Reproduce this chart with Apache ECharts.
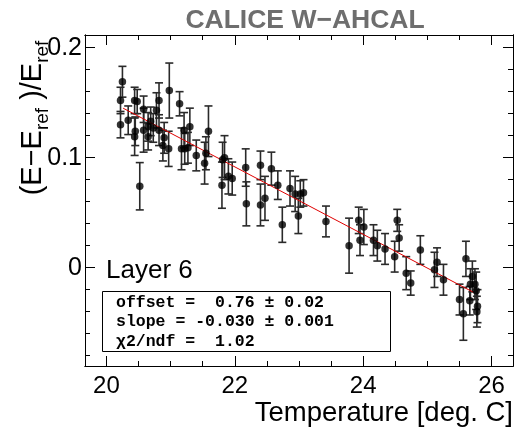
<!DOCTYPE html>
<html><head><meta charset="utf-8">
<script src="https://cdn.jsdelivr.net/npm/echarts@6/dist/echarts.min.js"></script>
<style>html,body{margin:0;padding:0;background:#fff}#c{width:516px;height:433px}</style>
</head><body><div id="c"></div>
<script>
const temps = [20.22,20.25,20.22,20.34,20.44,20.48,20.44,20.45,20.52,20.58,20.58,20.65,20.65,20.69,20.73,20.78,20.82,20.82,20.88,20.90,20.97,20.98,21.14,21.17,21.21,21.22,21.27,21.30,21.40,21.53,21.55,21.59,21.80,21.81,21.84,21.90,21.96,22.17,22.18,22.40,22.40,22.47,22.57,22.67,22.74,22.86,22.94,22.99,23.02,23.07,23.42,23.78,23.93,23.95,24.01,24.16,24.22,24.34,24.49,24.53,24.56,24.67,24.74,24.89,25.11,25.15,25.25,25.50,25.56,25.60,25.66,25.67,25.70,25.74,25.76,25.77,25.78];
const values = [0.152,0.169,0.130,0.134,0.152,0.151,0.119,0.124,0.074,0.144,0.125,0.128,0.119,0.133,0.127,0.143,0.152,0.125,0.111,0.118,0.108,0.161,0.149,0.108,0.125,0.108,0.109,0.128,0.102,0.095,0.104,0.124,0.075,0.098,0.100,0.083,0.081,0.091,0.058,0.093,0.057,0.063,0.090,0.075,0.039,0.072,0.067,0.047,0.067,0.068,0.042,0.020,0.043,0.025,0.037,0.025,0.020,0.017,0.010,0.043,0.027,-0.005,-0.014,0.016,-0.002,0.005,-0.011,-0.029,-0.042,0.008,-0.030,-0.015,-0.008,-0.015,-0.021,-0.040,-0.035];
const errors = [0.012,0.014,0.012,0.013,0.012,0.011,0.017,0.013,0.0215,0.012,0.02,0.013,0.012,0.013,0.013,0.016,0.016,0.014,0.014,0.014,0.016,0.025,0.011,0.019,0.016,0.014,0.014,0.017,0.014,0.019,0.015,0.023,0.021,0.016,0.02,0.016,0.015,0.017,0.020,0.013,0.019,0.020,0.015,0.013,0.016,0.016,0.016,0.016,0.012,0.012,0.014,0.025,0.012,0.014,0.016,0.014,0.014,0.014,0.014,0.010,0.012,0.015,0.011,0.013,0.016,0.013,0.014,0.014,0.024,0.016,0.013,0.014,0.014,0.014,0.017,0.014,0.015];
const fitX = [20.26, 25.72];
const fitY = [0.145, -0.0225];
const xMajor = [20, 22, 24, 26];
const xMinor = [20,20.5,21,21.5,22,22.5,23,23.5,24,24.5,25,25.5,26];
const yMajor = [0, 0.1, 0.2];
const yMinor = [-0.08,-0.06,-0.04,-0.02,0,0.02,0.04,0.06,0.08,0.1,0.12,0.14,0.16,0.18,0.2];
const titleText = 'CALICE W\u2212AHCAL';
const xName = 'Temperature [deg. C]';
const layerText = 'Layer 6';
const fitLines = ['offset =  0.76 \u00b1 0.02', 'slope = -0.030 \u00b1 0.001', '\u03c72/ndf =  1.02'];

const X0 = 19.667, X1 = 26.333, Y0 = -0.0894, Y1 = 0.2115;
const FONT = '"Liberation Sans", Arial, Helvetica, sans-serif';
const MONO = '"Liberation Mono", "Courier New", monospace';
const chart = echarts.init(document.getElementById('c'), null, {renderer: 'canvas'});

function xAx(pos, vals, len, labels) {
  return {type: 'value', min: X0, max: X1, position: pos,
    axisLine: {show: true, onZero: false, lineStyle: {color: '#000', width: 1}},
    splitLine: {show: false},
    axisTick: {show: true, inside: true, length: len, customValues: vals, lineStyle: {color: '#000', width: 1}},
    axisLabel: labels ? {show: true, customValues: vals, margin: 8, fontSize: 24, color: '#000', fontFamily: FONT} : {show: false}};
}
function yAx(pos, vals, len, labels) {
  return {type: 'value', min: Y0, max: Y1, position: pos,
    axisLine: {show: true, onZero: false, lineStyle: {color: '#000', width: 1}},
    splitLine: {show: false},
    axisTick: {show: true, inside: true, length: len, customValues: vals, lineStyle: {color: '#000', width: 1}},
    axisLabel: labels ? {show: true, customValues: vals, margin: 3, fontSize: 25, color: '#000', fontFamily: FONT,
      formatter: v => (Math.abs(v) < 1e-9 ? '0' : String(+v.toFixed(2)))} : {show: false}};
}

const errData = temps.map((t, i) => [t, values[i], errors[i]]);
const ptData = temps.map((t, i) => [t, values[i]]);

chart.setOption({
  animation: false,
  backgroundColor: '#fff',
  grid: {left: 85, right: 3, top: 35, bottom: 67, containLabel: false, outerBoundsMode: 'none'},
  xAxis: [
    xAx('bottom', xMajor, 10, true),
    xAx('bottom', xMinor, 5, false),
    xAx('top', xMajor, 10, false),
    xAx('top', xMinor, 5, false)
  ],
  yAxis: [
    yAx('left', yMajor, 10, true),
    yAx('left', yMinor, 5, false),
    yAx('right', yMajor, 10, false),
    yAx('right', yMinor, 5, false)
  ],
  series: [
    {type: 'custom', xAxisIndex: 0, yAxisIndex: 0, data: errData, z: 2,
      renderItem: function (params, api) {
        const x = api.value(0), y = api.value(1), e = api.value(2);
        const p1 = api.coord([x, y + e]), p2 = api.coord([x, y - e]);
        const w = 4, st = {stroke: '#2a2a2a', lineWidth: 1.6};
        return {type: 'group', children: [
          {type: 'line', shape: {x1: p1[0], y1: p1[1], x2: p2[0], y2: p2[1]}, style: st},
          {type: 'line', shape: {x1: p1[0] - w, y1: p1[1], x2: p1[0] + w, y2: p1[1]}, style: st},
          {type: 'line', shape: {x1: p2[0] - w, y1: p2[1], x2: p2[0] + w, y2: p2[1]}, style: st}
        ]};
      }},
    {type: 'line', xAxisIndex: 0, yAxisIndex: 0, data: fitX.map((x, i) => [x, fitY[i]]), showSymbol: false, z: 3,
      lineStyle: {color: '#e00000', width: 1}},
    {type: 'scatter', xAxisIndex: 0, yAxisIndex: 0, data: ptData, symbol: 'circle', symbolSize: 7.5, z: 4,
      itemStyle: {color: '#000'}}
  ],
  graphic: [
    {type: 'text', x: 305, y: 21, style: {text: titleText, fontSize: 26.5, fontWeight: 'bold', fontFamily: FONT, fill: '#6e6e6e', align: 'center', verticalAlign: 'middle'}},
    {type: 'text', x: 513, y: 413, style: {text: xName, fontSize: 27.5, fontFamily: FONT, fill: '#000', align: 'right', verticalAlign: 'middle'}},
    {type: 'text', x: 33, y: 118, rotation: Math.PI / 2,
      style: {text: '{m|(E\u2212E}{s|ref}{m| )/E}{s|ref}', align: 'center', verticalAlign: 'middle', fill: '#000',
        rich: {m: {fontSize: 29, fontFamily: FONT, lineHeight: 29, verticalAlign: 'top', fill: '#000'},
               s: {fontSize: 19, fontFamily: FONT, lineHeight: 19, verticalAlign: 'top', padding: [15, 0, 0, 0], fill: '#000'}}}},
    {type: 'text', x: 106, y: 271, style: {text: layerText, fontSize: 26, fontFamily: FONT, fill: '#000', align: 'left', verticalAlign: 'middle'}},
    {type: 'rect', shape: {x: 102.5, y: 291.5, width: 288, height: 60}, style: {fill: '#fff', stroke: '#000', lineWidth: 1}, z: 10},
    {type: 'text', x: 116, y: 302.5, z: 11, style: {text: fitLines[0], fontSize: 16.5, fontWeight: 'bold', fontFamily: MONO, fill: '#000', verticalAlign: 'middle'}},
    {type: 'text', x: 116, y: 321.5, z: 11, style: {text: fitLines[1], fontSize: 16.5, fontWeight: 'bold', fontFamily: MONO, fill: '#000', verticalAlign: 'middle'}},
    {type: 'text', x: 116, y: 341.5, z: 11, style: {text: fitLines[2], fontSize: 16.5, fontWeight: 'bold', fontFamily: MONO, fill: '#000', verticalAlign: 'middle'}}
  ]
});
</script></body></html>
